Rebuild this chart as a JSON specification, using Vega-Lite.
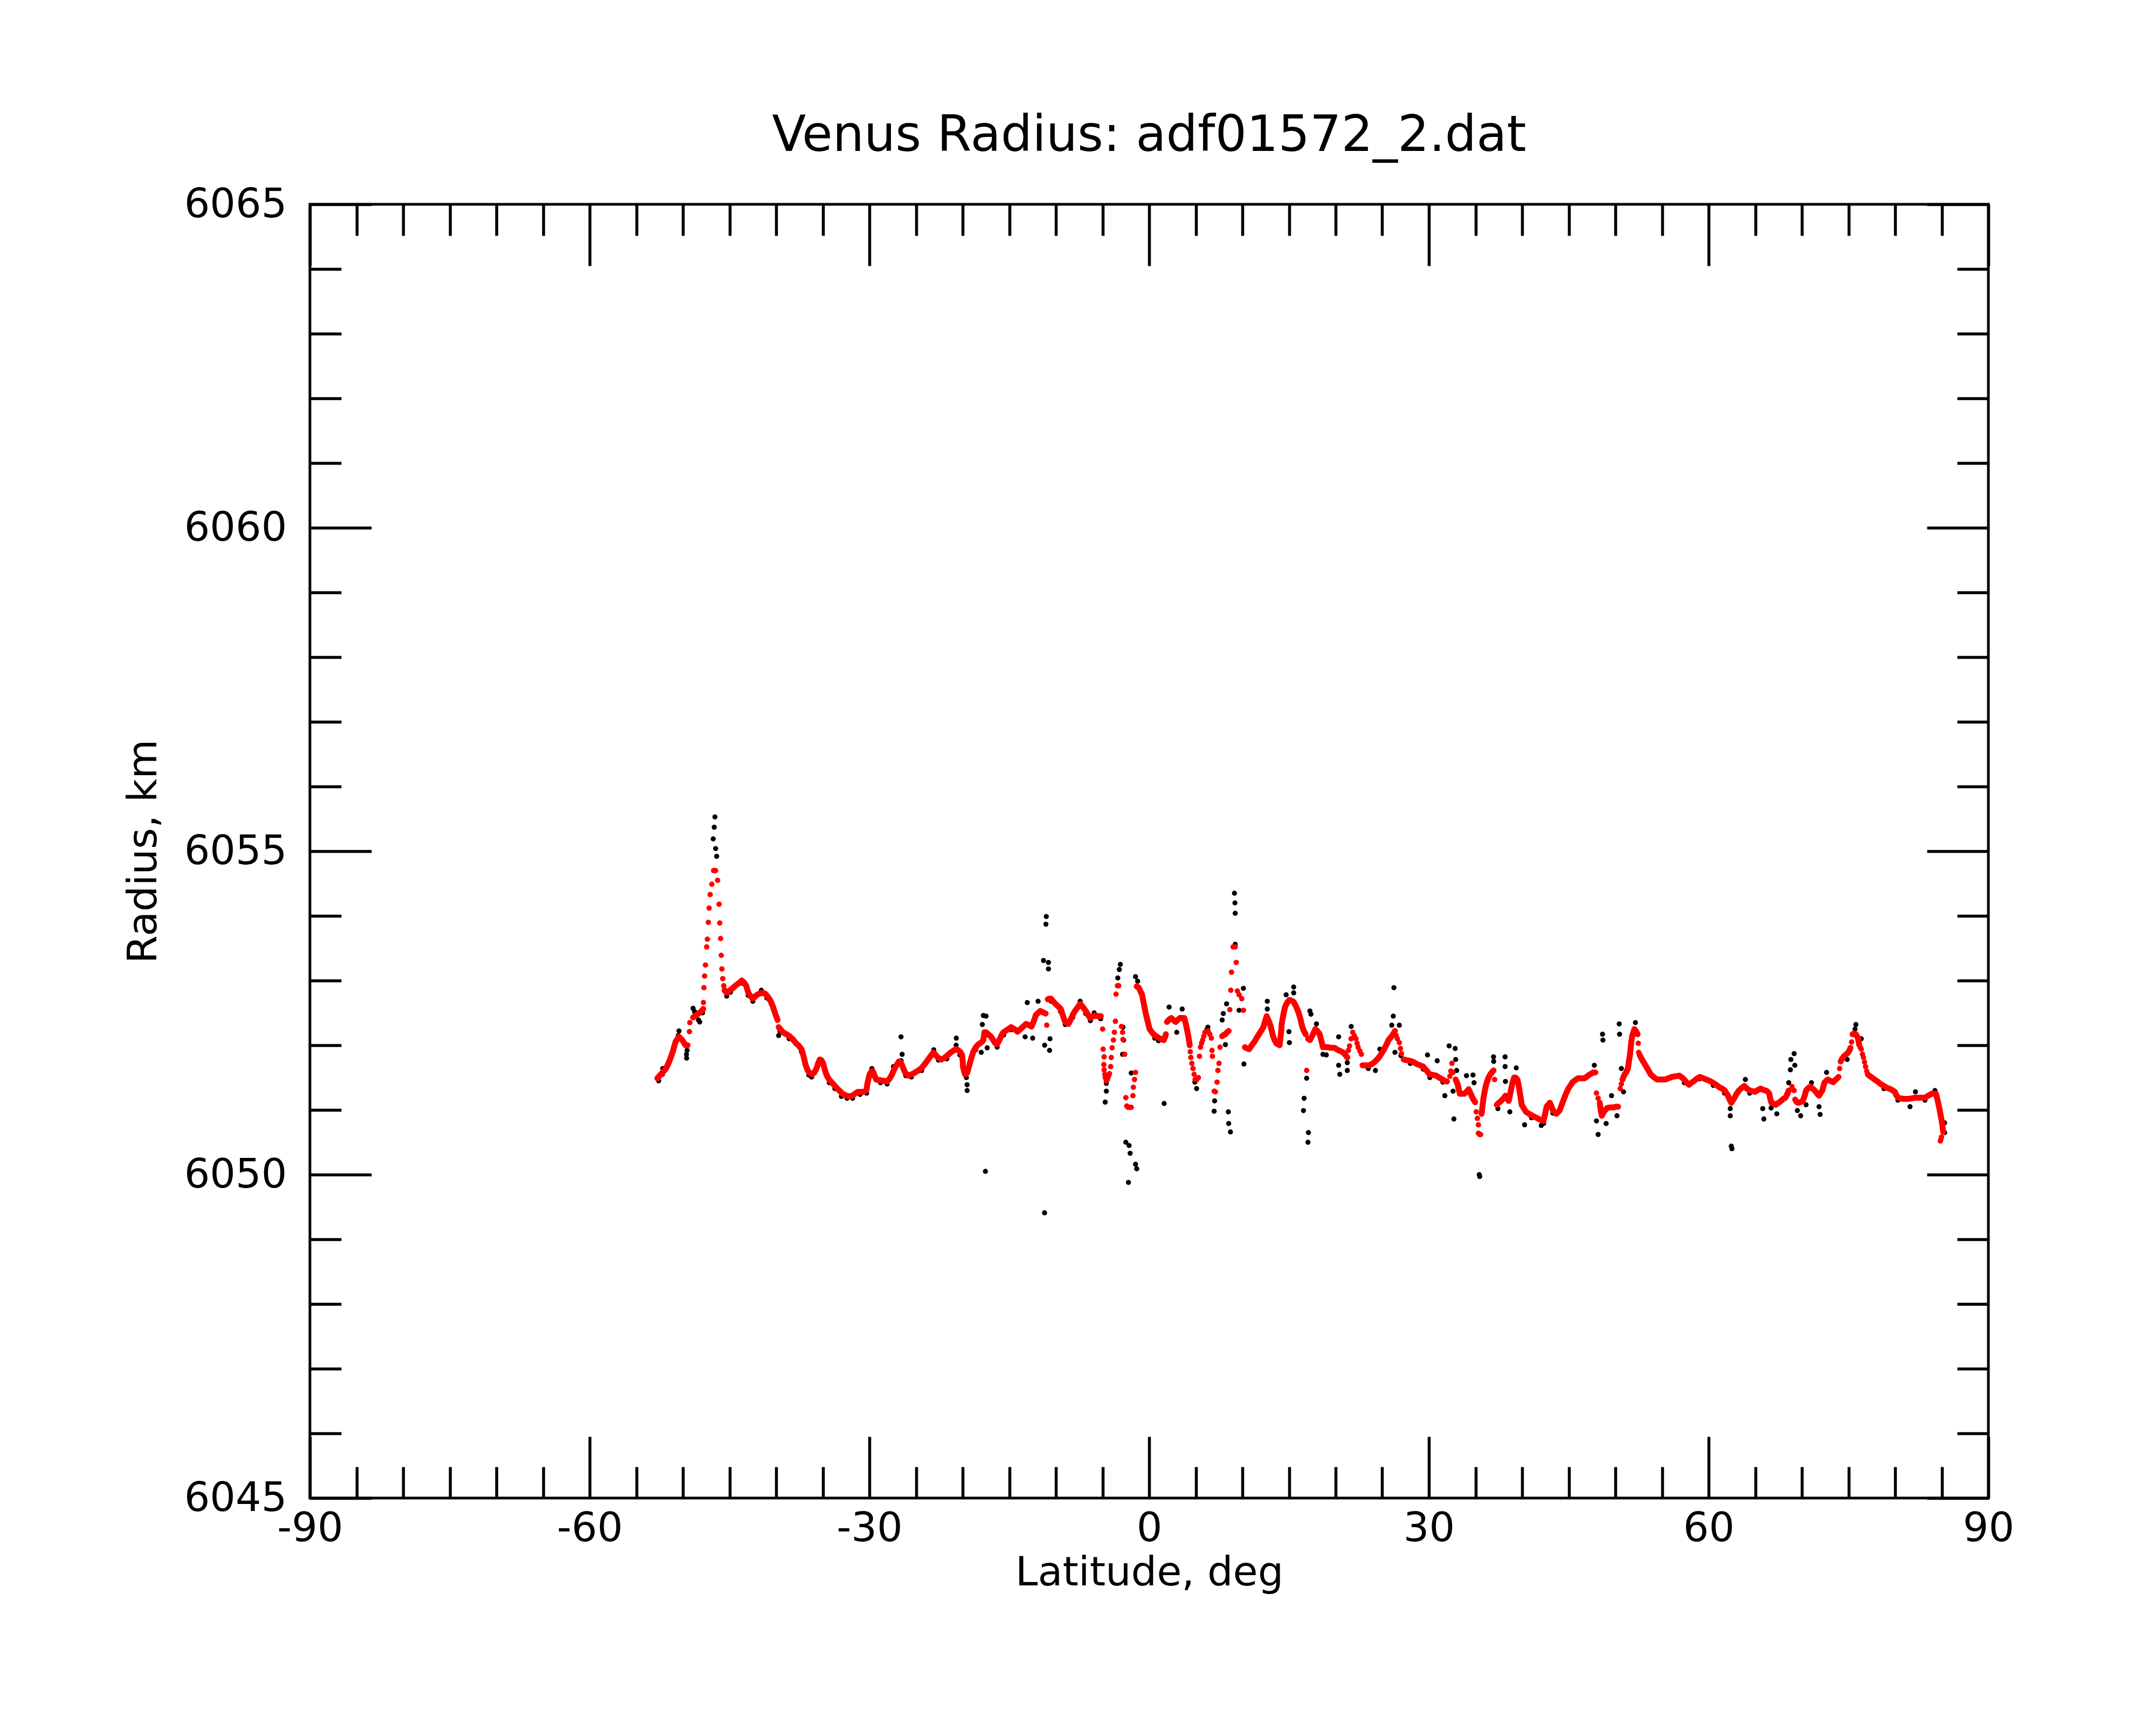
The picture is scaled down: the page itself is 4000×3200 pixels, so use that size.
{
  "$schema": "https://vega.github.io/schema/vega-lite/v6.json",
  "width": 3114,
  "height": 2400,
  "autosize": {"type": "none"},
  "padding": {"left": 575, "top": 379, "right": 311, "bottom": 421},
  "background": "white",
  "title": {"text": "Venus Radius: adf01572_2.dat", "font": "DejaVu Sans", "fontSize": 92, "fontWeight": "normal", "color": "black", "anchor": "middle", "frame": "group", "baseline": "alphabetic", "offset": -30},
  "config": {
    "view": {"stroke": "black", "strokeWidth": 5},
    "axis": {"domain": false, "grid": false, "labelFont": "DejaVu Sans", "titleFont": "DejaVu Sans", "labelFontSize": 75, "titleFontSize": 75, "titleFontWeight": "normal", "labelColor": "black", "titleColor": "black", "tickColor": "black", "tickWidth": 5.5, "labelFlush": false, "labelOverlap": false, "labelLimit": 0}
  },
  "datasets": {
    "red": [
      {"lat":-52.74,"r":6051.49,"g":1},{"lat":-52.3,"r":6051.56,"g":1},{"lat":-51.81,"r":6051.64,"g":1},{"lat":-51.46,"r":6051.75,"g":1},{"lat":-51.11,"r":6051.89,"g":1},{"lat":-50.77,"r":6052.06,"g":1},{"lat":-50.42,"r":6052.13,"g":1},{"lat":-50.07,"r":6052.08,"g":1},{"lat":-49.72,"r":6052.0,"g":1},{"lat":-49.5,"r":6052.0,"g":1},
      {"lat":-49.3,"r":6052.21,"g":0},{"lat":-49.26,"r":6052.35,"g":0},
      {"lat":-48.91,"r":6052.43,"g":2},{"lat":-48.6,"r":6052.46,"g":2},{"lat":-48.33,"r":6052.49,"g":2},{"lat":-48.05,"r":6052.52,"g":2},{"lat":-47.82,"r":6052.56,"g":2},
      {"lat":-47.8,"r":6052.66,"g":0},{"lat":-47.75,"r":6052.89,"g":0},{"lat":-47.68,"r":6053.07,"g":0},{"lat":-47.58,"r":6053.24,"g":0},{"lat":-47.45,"r":6053.52,"g":0},{"lat":-47.38,"r":6053.64,"g":0},{"lat":-47.27,"r":6053.9,"g":0},{"lat":-47.19,"r":6054.12,"g":0},{"lat":-47.08,"r":6054.33,"g":0},{"lat":-46.9,"r":6054.49,"g":0},{"lat":-46.71,"r":6054.7,"g":0},{"lat":-46.6,"r":6054.7,"g":0},{"lat":-46.5,"r":6054.7,"g":0},{"lat":-46.28,"r":6054.55,"g":0},{"lat":-46.12,"r":6054.18,"g":0},{"lat":-46.05,"r":6053.89,"g":0},{"lat":-45.96,"r":6053.65,"g":0},{"lat":-45.89,"r":6053.39,"g":0},{"lat":-45.82,"r":6053.18,"g":0},{"lat":-45.73,"r":6053.03,"g":0},{"lat":-45.62,"r":6052.92,"g":0},
      {"lat":-45.54,"r":6052.85,"g":3},{"lat":-45.31,"r":6052.81,"g":3},{"lat":-45.05,"r":6052.84,"g":3},{"lat":-44.84,"r":6052.86,"g":3},{"lat":-44.6,"r":6052.89,"g":3},{"lat":-44.38,"r":6052.92,"g":3},{"lat":-44.0,"r":6052.96,"g":3},{"lat":-43.68,"r":6053.0,"g":3},{"lat":-43.45,"r":6052.97,"g":3},{"lat":-43.22,"r":6052.92,"g":3},{"lat":-42.98,"r":6052.81,"g":3},{"lat":-42.75,"r":6052.76,"g":3},{"lat":-42.52,"r":6052.72,"g":3},{"lat":-42.28,"r":6052.75,"g":3},{"lat":-42.05,"r":6052.78,"g":3},{"lat":-41.75,"r":6052.8,"g":3},{"lat":-41.47,"r":6052.81,"g":3},{"lat":-41.2,"r":6052.8,"g":3},{"lat":-41.01,"r":6052.77,"g":3},{"lat":-40.75,"r":6052.72,"g":3},{"lat":-40.55,"r":6052.67,"g":3},{"lat":-40.35,"r":6052.6,"g":3},{"lat":-40.2,"r":6052.53,"g":3},{"lat":-40.0,"r":6052.45,"g":3},{"lat":-39.85,"r":6052.39,"g":3},
      {"lat":-39.73,"r":6052.28,"g":4},{"lat":-39.5,"r":6052.24,"g":4},{"lat":-39.27,"r":6052.2,"g":4},{"lat":-38.9,"r":6052.17,"g":4},{"lat":-38.57,"r":6052.14,"g":4},{"lat":-38.2,"r":6052.09,"g":4},{"lat":-37.87,"r":6052.03,"g":4},{"lat":-37.55,"r":6051.99,"g":4},{"lat":-37.29,"r":6051.94,"g":4},{"lat":-37.06,"r":6051.83,"g":4},{"lat":-36.83,"r":6051.69,"g":4},{"lat":-36.65,"r":6051.62,"g":4},{"lat":-36.48,"r":6051.58,"g":4},{"lat":-36.13,"r":6051.55,"g":4},{"lat":-35.9,"r":6051.58,"g":4},{"lat":-35.67,"r":6051.64,"g":4},{"lat":-35.5,"r":6051.72,"g":4},{"lat":-35.32,"r":6051.78,"g":4},{"lat":-35.15,"r":6051.77,"g":4},{"lat":-34.97,"r":6051.72,"g":4},{"lat":-34.8,"r":6051.63,"g":4},{"lat":-34.62,"r":6051.55,"g":4},{"lat":-34.45,"r":6051.5,"g":4},{"lat":-34.27,"r":6051.46,"g":4},{"lat":-33.95,"r":6051.41,"g":4},{"lat":-33.69,"r":6051.37,"g":4},{"lat":-33.45,"r":6051.33,"g":4},{"lat":-33.23,"r":6051.3,"g":4},{"lat":-32.88,"r":6051.25,"g":4},{"lat":-32.6,"r":6051.23,"g":4},{"lat":-32.42,"r":6051.22,"g":4},{"lat":-32.1,"r":6051.21,"g":4},{"lat":-31.83,"r":6051.22,"g":4},{"lat":-31.55,"r":6051.25,"g":4},{"lat":-31.25,"r":6051.28,"g":4},{"lat":-30.95,"r":6051.28,"g":4},{"lat":-30.67,"r":6051.28,"g":4},{"lat":-30.32,"r":6051.3,"g":4},{"lat":-30.21,"r":6051.41,"g":4},{"lat":-30.1,"r":6051.48,"g":4},{"lat":-29.98,"r":6051.55,"g":4},{"lat":-29.8,"r":6051.59,"g":4},{"lat":-29.63,"r":6051.6,"g":4},{"lat":-29.45,"r":6051.53,"g":4},{"lat":-29.28,"r":6051.47,"g":4},{"lat":-29.05,"r":6051.46,"g":4},{"lat":-28.82,"r":6051.46,"g":4},{"lat":-28.45,"r":6051.45,"g":4},{"lat":-28.12,"r":6051.44,"g":4},{"lat":-27.85,"r":6051.48,"g":4},{"lat":-27.65,"r":6051.53,"g":4},{"lat":-27.48,"r":6051.58,"g":4},{"lat":-27.3,"r":6051.64,"g":4},{"lat":-27.05,"r":6051.7,"g":4},{"lat":-26.84,"r":6051.75,"g":4},{"lat":-26.65,"r":6051.73,"g":4},{"lat":-26.49,"r":6051.69,"g":4},{"lat":-26.3,"r":6051.62,"g":4},{"lat":-26.14,"r":6051.57,"g":4},{"lat":-25.79,"r":6051.53,"g":4},{"lat":-25.45,"r":6051.55,"g":4},{"lat":-25.1,"r":6051.58,"g":4},{"lat":-24.75,"r":6051.61,"g":4},{"lat":-24.4,"r":6051.65,"g":4},{"lat":-24.05,"r":6051.71,"g":4},{"lat":-23.7,"r":6051.78,"g":4},{"lat":-23.4,"r":6051.84,"g":4},{"lat":-23.12,"r":6051.89,"g":4},{"lat":-22.9,"r":6051.85,"g":4},{"lat":-22.66,"r":6051.81,"g":4},{"lat":-22.31,"r":6051.78,"g":4},{"lat":-22.0,"r":6051.8,"g":4},{"lat":-21.73,"r":6051.83,"g":4},{"lat":-21.5,"r":6051.86,"g":4},{"lat":-21.26,"r":6051.89,"g":4},{"lat":-20.95,"r":6051.92,"g":4},{"lat":-20.68,"r":6051.94,"g":4},{"lat":-20.45,"r":6051.92,"g":4},{"lat":-20.22,"r":6051.89,"g":4},{"lat":-20.05,"r":6051.84,"g":4},{"lat":-19.99,"r":6051.75,"g":4},{"lat":-19.97,"r":6051.67,"g":4},{"lat":-19.85,"r":6051.6,"g":4},{"lat":-19.75,"r":6051.55,"g":4},{"lat":-19.52,"r":6051.57,"g":4},{"lat":-19.4,"r":6051.63,"g":4},{"lat":-19.29,"r":6051.69,"g":4},{"lat":-19.15,"r":6051.76,"g":4},{"lat":-19.06,"r":6051.81,"g":4},{"lat":-18.85,"r":6051.9,"g":4},{"lat":-18.59,"r":6051.97,"g":4},{"lat":-18.35,"r":6052.01,"g":4},{"lat":-18.13,"r":6052.03,"g":4},{"lat":-17.95,"r":6052.05,"g":4},{"lat":-17.78,"r":6052.08,"g":4},{"lat":-17.66,"r":6052.2,"g":4},{"lat":-17.49,"r":6052.2,"g":4},{"lat":-17.25,"r":6052.17,"g":4},{"lat":-17.02,"r":6052.14,"g":4},{"lat":-16.8,"r":6052.1,"g":4},{"lat":-16.55,"r":6052.04,"g":4},{"lat":-16.32,"r":6052.01,"g":4},{"lat":-16.1,"r":6052.07,"g":4},{"lat":-15.85,"r":6052.15,"g":4},{"lat":-15.63,"r":6052.2,"g":4},{"lat":-15.2,"r":6052.24,"g":4},{"lat":-14.81,"r":6052.28,"g":4},{"lat":-14.45,"r":6052.25,"g":4},{"lat":-14.12,"r":6052.21,"g":4},{"lat":-13.65,"r":6052.27,"g":4},{"lat":-13.19,"r":6052.33,"g":4},{"lat":-12.9,"r":6052.31,"g":4},{"lat":-12.61,"r":6052.29,"g":4},{"lat":-12.35,"r":6052.38,"g":4},{"lat":-12.14,"r":6052.47,"g":4},{"lat":-11.9,"r":6052.5,"g":4},{"lat":-11.68,"r":6052.53,"g":4},{"lat":-11.4,"r":6052.51,"g":4},{"lat":-11.1,"r":6052.49,"g":4},
      {"lat":-10.98,"r":6052.31,"g":0},
      {"lat":-10.87,"r":6052.71,"g":5},{"lat":-10.7,"r":6052.72,"g":5},{"lat":-10.52,"r":6052.72,"g":5},{"lat":-10.3,"r":6052.68,"g":5},{"lat":-10.05,"r":6052.64,"g":5},{"lat":-9.75,"r":6052.6,"g":5},{"lat":-9.47,"r":6052.56,"g":5},{"lat":-9.25,"r":6052.46,"g":5},{"lat":-9.01,"r":6052.36,"g":5},{"lat":-8.66,"r":6052.33,"g":5},{"lat":-8.4,"r":6052.4,"g":5},{"lat":-8.19,"r":6052.47,"g":5},{"lat":-7.95,"r":6052.53,"g":5},{"lat":-7.65,"r":6052.59,"g":5},{"lat":-7.38,"r":6052.64,"g":5},{"lat":-7.1,"r":6052.59,"g":5},{"lat":-6.8,"r":6052.53,"g":5},{"lat":-6.55,"r":6052.47,"g":5},{"lat":-6.34,"r":6052.42,"g":5},{"lat":-6.1,"r":6052.44,"g":5},{"lat":-5.87,"r":6052.46,"g":5},{"lat":-5.5,"r":6052.45,"g":5},{"lat":-5.18,"r":6052.45,"g":5},
      {"lat":-4.99,"r":6052.25,"g":0},{"lat":-4.94,"r":6051.94,"g":0},{"lat":-4.83,"r":6051.82,"g":0},{"lat":-4.86,"r":6051.7,"g":0},{"lat":-4.83,"r":6051.62,"g":0},{"lat":-4.75,"r":6051.55,"g":0},{"lat":-4.71,"r":6051.5,"g":0},{"lat":-4.6,"r":6051.45,"g":0},{"lat":-4.48,"r":6051.47,"g":0},{"lat":-4.35,"r":6051.52,"g":0},{"lat":-4.25,"r":6051.56,"g":0},{"lat":-4.13,"r":6051.67,"g":0},{"lat":-4.06,"r":6051.81,"g":0},{"lat":-3.97,"r":6051.96,"g":0},{"lat":-3.83,"r":6052.08,"g":0},{"lat":-3.73,"r":6052.2,"g":0},{"lat":-3.62,"r":6052.37,"g":0},{"lat":-3.55,"r":6052.79,"g":0},{"lat":-3.4,"r":6052.92,"g":0},{"lat":-3.27,"r":6052.92,"g":0},{"lat":-2.97,"r":6052.29,"g":0},{"lat":-2.85,"r":6052.2,"g":0},{"lat":-2.81,"r":6052.09,"g":0},{"lat":-2.62,"r":6051.86,"g":0},{"lat":-2.5,"r":6051.19,"g":0},{"lat":-2.4,"r":6051.06,"g":0},{"lat":-2.27,"r":6051.04,"g":0},{"lat":-2.1,"r":6051.04,"g":0},{"lat":-1.92,"r":6051.04,"g":0},{"lat":-1.74,"r":6051.22,"g":0},{"lat":-1.69,"r":6051.35,"g":0},{"lat":-1.57,"r":6051.47,"g":0},{"lat":-1.46,"r":6051.58,"g":0},
      {"lat":-1.34,"r":6052.91,"g":6},{"lat":-1.11,"r":6052.89,"g":6},{"lat":-0.95,"r":6052.84,"g":6},{"lat":-0.76,"r":6052.78,"g":6},{"lat":-0.65,"r":6052.7,"g":6},{"lat":-0.53,"r":6052.61,"g":6},{"lat":-0.42,"r":6052.53,"g":6},{"lat":-0.3,"r":6052.45,"g":6},{"lat":-0.12,"r":6052.35,"g":6},{"lat":0.05,"r":6052.25,"g":6},{"lat":0.35,"r":6052.19,"g":6},{"lat":0.63,"r":6052.15,"g":6},{"lat":0.85,"r":6052.13,"g":6},{"lat":1.1,"r":6052.11,"g":6},{"lat":1.35,"r":6052.09,"g":6},{"lat":1.56,"r":6052.08,"g":6},{"lat":1.72,"r":6052.13,"g":6},{"lat":1.79,"r":6052.17,"g":6},
      {"lat":1.91,"r":6052.36,"g":7},{"lat":2.15,"r":6052.4,"g":7},{"lat":2.38,"r":6052.42,"g":7},{"lat":2.6,"r":6052.39,"g":7},{"lat":2.84,"r":6052.36,"g":7},{"lat":3.05,"r":6052.39,"g":7},{"lat":3.3,"r":6052.42,"g":7},{"lat":3.55,"r":6052.42,"g":7},{"lat":3.77,"r":6052.42,"g":7},{"lat":3.95,"r":6052.32,"g":7},{"lat":4.12,"r":6052.2,"g":7},{"lat":4.25,"r":6052.1,"g":7},{"lat":4.35,"r":6052.0,"g":7},
      {"lat":4.41,"r":6051.9,"g":0},{"lat":4.47,"r":6051.81,"g":0},{"lat":4.58,"r":6051.72,"g":0},{"lat":4.7,"r":6051.64,"g":0},{"lat":4.82,"r":6051.55,"g":0},{"lat":4.93,"r":6051.47,"g":0},{"lat":5.1,"r":6051.47,"g":0},{"lat":5.28,"r":6051.5,"g":0},{"lat":5.4,"r":6051.83,"g":0},{"lat":5.51,"r":6051.97,"g":0},{"lat":5.62,"r":6052.03,"g":0},{"lat":5.74,"r":6052.08,"g":0},{"lat":5.86,"r":6052.14,"g":0},{"lat":5.98,"r":6052.2,"g":0},{"lat":6.15,"r":6052.21,"g":0},{"lat":6.33,"r":6052.22,"g":0},{"lat":6.5,"r":6052.17,"g":0},{"lat":6.67,"r":6052.11,"g":0},{"lat":6.74,"r":6051.92,"g":0},{"lat":6.79,"r":6051.83,"g":0},{"lat":6.98,"r":6051.29,"g":0},{"lat":7.1,"r":6051.28,"g":0},{"lat":7.28,"r":6051.43,"g":0},{"lat":7.37,"r":6051.61,"g":0},{"lat":7.49,"r":6051.72,"g":0},{"lat":7.6,"r":6051.97,"g":0},
      {"lat":7.83,"r":6052.14,"g":8},{"lat":8.0,"r":6052.16,"g":8},{"lat":8.18,"r":6052.17,"g":8},{"lat":8.35,"r":6052.2,"g":8},{"lat":8.53,"r":6052.22,"g":8},
      {"lat":8.65,"r":6052.55,"g":0},{"lat":8.75,"r":6052.85,"g":0},{"lat":8.83,"r":6053.13,"g":0},{"lat":9.0,"r":6053.52,"g":0},{"lat":9.23,"r":6053.52,"g":0},{"lat":9.34,"r":6053.28,"g":0},{"lat":9.46,"r":6052.84,"g":0},{"lat":9.65,"r":6052.78,"g":0},{"lat":9.93,"r":6052.72,"g":0},{"lat":10.11,"r":6052.54,"g":0},
      {"lat":10.27,"r":6051.97,"g":9},{"lat":10.5,"r":6051.95,"g":9},{"lat":10.74,"r":6051.94,"g":9},{"lat":11.0,"r":6052.0,"g":9},{"lat":11.32,"r":6052.06,"g":9},{"lat":11.55,"r":6052.12,"g":9},{"lat":11.78,"r":6052.17,"g":9},{"lat":12.0,"r":6052.22,"g":9},{"lat":12.25,"r":6052.28,"g":9},{"lat":12.45,"r":6052.38,"g":9},{"lat":12.6,"r":6052.45,"g":9},{"lat":12.78,"r":6052.39,"g":9},{"lat":12.95,"r":6052.33,"g":9},{"lat":13.12,"r":6052.24,"g":9},{"lat":13.29,"r":6052.14,"g":9},{"lat":13.45,"r":6052.08,"g":9},{"lat":13.64,"r":6052.03,"g":9},{"lat":13.99,"r":6052.0,"g":9},{"lat":14.15,"r":6052.2,"g":9},{"lat":14.22,"r":6052.33,"g":9},{"lat":14.4,"r":6052.48,"g":9},{"lat":14.57,"r":6052.59,"g":9},{"lat":14.8,"r":6052.66,"g":9},{"lat":15.04,"r":6052.7,"g":9},{"lat":15.27,"r":6052.69,"g":9},{"lat":15.5,"r":6052.67,"g":9},{"lat":15.75,"r":6052.6,"g":9},{"lat":15.96,"r":6052.53,"g":9},{"lat":16.2,"r":6052.42,"g":9},{"lat":16.33,"r":6052.34,"g":9},{"lat":16.43,"r":6052.28,"g":9},{"lat":16.6,"r":6052.22,"g":9},{"lat":16.78,"r":6052.17,"g":9},
      {"lat":16.89,"r":6051.61,"g":0},
      {"lat":17.05,"r":6052.1,"g":10},{"lat":17.24,"r":6052.08,"g":10},{"lat":17.5,"r":6052.15,"g":10},{"lat":17.82,"r":6052.25,"g":10},{"lat":18.05,"r":6052.22,"g":10},{"lat":18.29,"r":6052.17,"g":10},{"lat":18.45,"r":6052.08,"g":10},{"lat":18.64,"r":6051.97,"g":10},{"lat":18.93,"r":6051.97,"g":10},{"lat":19.2,"r":6051.97,"g":10},{"lat":19.5,"r":6051.96,"g":10},{"lat":19.86,"r":6051.96,"g":10},{"lat":20.2,"r":6051.93,"g":10},{"lat":20.5,"r":6051.91,"g":10},{"lat":20.79,"r":6051.89,"g":10},{"lat":21.05,"r":6051.85,"g":10},{"lat":21.25,"r":6051.81,"g":10},
      {"lat":21.37,"r":6051.92,"g":0},{"lat":21.49,"r":6051.99,"g":0},{"lat":21.65,"r":6052.1,"g":0},{"lat":21.83,"r":6052.2,"g":0},{"lat":22.0,"r":6052.15,"g":0},{"lat":22.18,"r":6052.1,"g":0},{"lat":22.3,"r":6052.03,"g":0},{"lat":22.41,"r":6051.97,"g":0},{"lat":22.6,"r":6051.91,"g":0},{"lat":22.76,"r":6051.86,"g":0},
      {"lat":22.88,"r":6051.69,"g":11},{"lat":23.2,"r":6051.69,"g":11},{"lat":23.58,"r":6051.69,"g":11},{"lat":23.9,"r":6051.71,"g":11},{"lat":24.16,"r":6051.74,"g":11},{"lat":24.45,"r":6051.78,"g":11},{"lat":24.74,"r":6051.83,"g":11},{"lat":24.95,"r":6051.88,"g":11},{"lat":25.2,"r":6051.94,"g":11},{"lat":25.45,"r":6052.01,"g":11},{"lat":25.67,"r":6052.08,"g":11},{"lat":26.02,"r":6052.14,"g":11},{"lat":26.2,"r":6052.18,"g":11},{"lat":26.36,"r":6052.22,"g":11},
      {"lat":26.5,"r":6052.15,"g":0},{"lat":26.62,"r":6052.1,"g":0},{"lat":26.83,"r":6052.04,"g":0},{"lat":26.95,"r":6051.95,"g":0},{"lat":27.06,"r":6051.87,"g":0},
      {"lat":27.29,"r":6051.78,"g":12},{"lat":27.6,"r":6051.77,"g":12},{"lat":27.99,"r":6051.76,"g":12},{"lat":28.35,"r":6051.74,"g":12},{"lat":28.69,"r":6051.71,"g":12},{"lat":29.05,"r":6051.69,"g":12},{"lat":29.38,"r":6051.67,"g":12},{"lat":29.75,"r":6051.61,"g":12},{"lat":30.08,"r":6051.55,"g":12},{"lat":30.45,"r":6051.54,"g":12},{"lat":30.78,"r":6051.53,"g":12},{"lat":31.1,"r":6051.5,"g":12},{"lat":31.47,"r":6051.47,"g":12},{"lat":31.7,"r":6051.45,"g":12},{"lat":31.94,"r":6051.44,"g":12},
      {"lat":32.25,"r":6051.52,"g":0},{"lat":32.35,"r":6051.6,"g":0},{"lat":32.47,"r":6051.72,"g":0},{"lat":32.6,"r":6051.58,"g":0},
      {"lat":32.87,"r":6051.47,"g":13},{"lat":33.1,"r":6051.39,"g":13},{"lat":33.2,"r":6051.32,"g":13},{"lat":33.33,"r":6051.25,"g":13},{"lat":33.55,"r":6051.25,"g":13},{"lat":33.8,"r":6051.25,"g":13},{"lat":34.05,"r":6051.28,"g":13},{"lat":34.26,"r":6051.32,"g":13},{"lat":34.49,"r":6051.25,"g":13},{"lat":34.7,"r":6051.18,"g":13},{"lat":34.96,"r":6051.12,"g":13},
      {"lat":35.08,"r":6050.97,"g":0},{"lat":35.2,"r":6050.87,"g":0},{"lat":35.31,"r":6050.77,"g":0},{"lat":35.31,"r":6050.64,"g":0},{"lat":35.45,"r":6050.62,"g":0},{"lat":35.54,"r":6050.62,"g":0},
      {"lat":35.66,"r":6050.94,"g":14},{"lat":35.72,"r":6051.02,"g":14},{"lat":35.77,"r":6051.08,"g":14},{"lat":35.85,"r":6051.18,"g":14},{"lat":36.0,"r":6051.3,"g":14},{"lat":36.1,"r":6051.37,"g":14},{"lat":36.24,"r":6051.44,"g":14},{"lat":36.4,"r":6051.5,"g":14},{"lat":36.58,"r":6051.55,"g":14},{"lat":36.75,"r":6051.58,"g":14},{"lat":36.93,"r":6051.61,"g":14},
      {"lat":37.05,"r":6051.47,"g":0},
      {"lat":37.28,"r":6051.08,"g":15},{"lat":37.5,"r":6051.11,"g":15},{"lat":37.75,"r":6051.14,"g":15},{"lat":38.0,"r":6051.18,"g":15},{"lat":38.21,"r":6051.22,"g":15},{"lat":38.4,"r":6051.18,"g":15},{"lat":38.56,"r":6051.14,"g":15},{"lat":38.68,"r":6051.22,"g":15},{"lat":38.79,"r":6051.3,"g":15},{"lat":38.95,"r":6051.41,"g":15},{"lat":39.14,"r":6051.5,"g":15},{"lat":39.3,"r":6051.5,"g":15},{"lat":39.49,"r":6051.47,"g":15},{"lat":39.6,"r":6051.4,"g":15},{"lat":39.72,"r":6051.3,"g":15},{"lat":39.85,"r":6051.18,"g":15},{"lat":39.95,"r":6051.08,"g":15},{"lat":40.2,"r":6051.02,"g":15},{"lat":40.42,"r":6050.97,"g":15},{"lat":40.75,"r":6050.94,"g":15},{"lat":41.11,"r":6050.91,"g":15},{"lat":41.5,"r":6050.88,"g":15},{"lat":41.93,"r":6050.85,"g":15},{"lat":42.28,"r":6050.83,"g":15},{"lat":42.45,"r":6050.93,"g":15},{"lat":42.63,"r":6051.05,"g":15},{"lat":42.97,"r":6051.11,"g":15},{"lat":43.15,"r":6051.05,"g":15},{"lat":43.32,"r":6050.99,"g":15},{"lat":43.67,"r":6050.94,"g":15},{"lat":44.02,"r":6050.99,"g":15},{"lat":44.25,"r":6051.08,"g":15},{"lat":44.48,"r":6051.17,"g":15},{"lat":44.7,"r":6051.25,"g":15},{"lat":44.95,"r":6051.33,"g":15},{"lat":45.2,"r":6051.38,"g":15},{"lat":45.41,"r":6051.43,"g":15},{"lat":45.7,"r":6051.46,"g":15},{"lat":45.99,"r":6051.49,"g":15},{"lat":46.35,"r":6051.49,"g":15},{"lat":46.69,"r":6051.49,"g":15},{"lat":46.9,"r":6051.51,"g":15},{"lat":47.15,"r":6051.54,"g":15},{"lat":47.4,"r":6051.56,"g":15},{"lat":47.62,"r":6051.58,"g":15},{"lat":47.85,"r":6051.58,"g":15},
      {"lat":47.97,"r":6051.26,"g":0},{"lat":48.15,"r":6051.18,"g":0},
      {"lat":48.32,"r":6051.11,"g":16},{"lat":48.43,"r":6050.99,"g":16},{"lat":48.55,"r":6050.91,"g":16},{"lat":48.8,"r":6050.98,"g":16},{"lat":49.13,"r":6051.03,"g":16},{"lat":49.5,"r":6051.04,"g":16},{"lat":49.83,"r":6051.04,"g":16},{"lat":50.05,"r":6051.05,"g":16},{"lat":50.29,"r":6051.05,"g":16},
      {"lat":50.52,"r":6051.33,"g":0},{"lat":50.64,"r":6051.4,"g":0},
      {"lat":50.76,"r":6051.47,"g":17},{"lat":50.99,"r":6051.55,"g":17},{"lat":51.15,"r":6051.58,"g":17},{"lat":51.34,"r":6051.64,"g":17},{"lat":51.45,"r":6051.75,"g":17},{"lat":51.57,"r":6051.86,"g":17},{"lat":51.69,"r":6052.03,"g":17},{"lat":51.8,"r":6052.14,"g":17},{"lat":52.04,"r":6052.25,"g":17},{"lat":52.2,"r":6052.22,"g":17},{"lat":52.38,"r":6052.17,"g":17},
      {"lat":52.45,"r":6052.03,"g":0},{"lat":52.5,"r":6051.89,"g":0},
      {"lat":52.6,"r":6051.85,"g":18},{"lat":52.85,"r":6051.78,"g":18},{"lat":53.1,"r":6051.72,"g":18},{"lat":53.31,"r":6051.67,"g":18},{"lat":53.55,"r":6051.61,"g":18},{"lat":53.78,"r":6051.55,"g":18},{"lat":54.1,"r":6051.51,"g":18},{"lat":54.47,"r":6051.47,"g":18},{"lat":54.9,"r":6051.47,"g":18},{"lat":55.35,"r":6051.47,"g":18},{"lat":55.7,"r":6051.49,"g":18},{"lat":56.04,"r":6051.51,"g":18},{"lat":56.45,"r":6051.52,"g":18},{"lat":56.86,"r":6051.53,"g":18},{"lat":57.15,"r":6051.5,"g":18},{"lat":57.44,"r":6051.46,"g":18},{"lat":57.65,"r":6051.42,"g":18},{"lat":57.9,"r":6051.39,"g":18},{"lat":58.15,"r":6051.42,"g":18},{"lat":58.37,"r":6051.44,"g":18},{"lat":58.7,"r":6051.48,"g":18},{"lat":59.06,"r":6051.51,"g":18},{"lat":59.4,"r":6051.49,"g":18},{"lat":59.76,"r":6051.47,"g":18},{"lat":60.1,"r":6051.45,"g":18},{"lat":60.46,"r":6051.42,"g":18},{"lat":60.8,"r":6051.39,"g":18},{"lat":61.15,"r":6051.35,"g":18},{"lat":61.45,"r":6051.33,"g":18},{"lat":61.73,"r":6051.3,"g":18},{"lat":61.9,"r":6051.26,"g":18},{"lat":62.08,"r":6051.22,"g":18},{"lat":62.25,"r":6051.16,"g":18},{"lat":62.43,"r":6051.11,"g":18},{"lat":62.6,"r":6051.15,"g":18},{"lat":62.78,"r":6051.19,"g":18},{"lat":63.0,"r":6051.25,"g":18},{"lat":63.25,"r":6051.3,"g":18},{"lat":63.55,"r":6051.34,"g":18},{"lat":63.83,"r":6051.37,"g":18},{"lat":64.1,"r":6051.33,"g":18},{"lat":64.41,"r":6051.3,"g":18},{"lat":64.7,"r":6051.29,"g":18},{"lat":64.99,"r":6051.28,"g":18},{"lat":65.3,"r":6051.31,"g":18},{"lat":65.57,"r":6051.33,"g":18},{"lat":65.85,"r":6051.31,"g":18},{"lat":66.15,"r":6051.3,"g":18},{"lat":66.35,"r":6051.28,"g":18},{"lat":66.5,"r":6051.25,"g":18},{"lat":66.6,"r":6051.18,"g":18},{"lat":66.73,"r":6051.11,"g":18},{"lat":66.95,"r":6051.1,"g":18},{"lat":67.19,"r":6051.08,"g":18},{"lat":67.5,"r":6051.11,"g":18},{"lat":67.77,"r":6051.14,"g":18},{"lat":68.0,"r":6051.17,"g":18},{"lat":68.24,"r":6051.19,"g":18},{"lat":68.45,"r":6051.25,"g":18},{"lat":68.59,"r":6051.3,"g":18},
      {"lat":68.94,"r":6051.36,"g":0},{"lat":69.17,"r":6051.3,"g":0},
      {"lat":69.28,"r":6051.16,"g":19},{"lat":69.45,"r":6051.12,"g":19},{"lat":69.63,"r":6051.11,"g":19},{"lat":69.85,"r":6051.12,"g":19},{"lat":70.1,"r":6051.14,"g":19},{"lat":70.3,"r":6051.22,"g":19},{"lat":70.45,"r":6051.3,"g":19},{"lat":70.7,"r":6051.34,"g":19},{"lat":70.91,"r":6051.36,"g":19},{"lat":71.15,"r":6051.33,"g":19},{"lat":71.38,"r":6051.3,"g":19},{"lat":71.6,"r":6051.26,"g":19},{"lat":71.84,"r":6051.22,"g":19},{"lat":72.0,"r":6051.26,"g":19},{"lat":72.19,"r":6051.3,"g":19},{"lat":72.3,"r":6051.36,"g":19},{"lat":72.42,"r":6051.42,"g":19},{"lat":72.6,"r":6051.45,"g":19},{"lat":72.77,"r":6051.47,"g":19},{"lat":73.05,"r":6051.45,"g":19},{"lat":73.35,"r":6051.43,"g":19},{"lat":73.65,"r":6051.47,"g":19},{"lat":73.93,"r":6051.51,"g":19},
      {"lat":74.05,"r":6051.64,"g":0},
      {"lat":74.16,"r":6051.75,"g":20},{"lat":74.35,"r":6051.8,"g":20},{"lat":74.51,"r":6051.83,"g":20},{"lat":74.75,"r":6051.86,"g":20},{"lat":74.98,"r":6051.89,"g":20},{"lat":75.1,"r":6051.92,"g":20},{"lat":75.21,"r":6051.96,"g":20},
      {"lat":75.33,"r":6052.05,"g":0},
      {"lat":75.44,"r":6052.17,"g":21},{"lat":75.6,"r":6052.18,"g":21},{"lat":75.79,"r":6052.17,"g":21},{"lat":76.02,"r":6052.11,"g":21},{"lat":76.14,"r":6052.01,"g":21},
      {"lat":76.25,"r":6051.97,"g":0},{"lat":76.37,"r":6051.94,"g":0},{"lat":76.5,"r":6051.86,"g":0},{"lat":76.6,"r":6051.81,"g":0},{"lat":76.72,"r":6051.74,"g":0},{"lat":76.83,"r":6051.67,"g":0},{"lat":76.95,"r":6051.6,"g":0},
      {"lat":77.07,"r":6051.55,"g":22},{"lat":77.3,"r":6051.52,"g":22},{"lat":77.53,"r":6051.5,"g":22},{"lat":77.8,"r":6051.47,"g":22},{"lat":78.11,"r":6051.44,"g":22},{"lat":78.45,"r":6051.4,"g":22},{"lat":78.81,"r":6051.37,"g":22},{"lat":79.15,"r":6051.34,"g":22},{"lat":79.51,"r":6051.32,"g":22},{"lat":79.75,"r":6051.3,"g":22},{"lat":79.97,"r":6051.28,"g":22},{"lat":80.15,"r":6051.22,"g":22},{"lat":80.32,"r":6051.19,"g":22},{"lat":80.6,"r":6051.18,"g":22},{"lat":80.9,"r":6051.17,"g":22},{"lat":81.35,"r":6051.17,"g":22},{"lat":81.83,"r":6051.18,"g":22},{"lat":82.2,"r":6051.19,"g":22},{"lat":82.53,"r":6051.19,"g":22},{"lat":82.9,"r":6051.19,"g":22},{"lat":83.22,"r":6051.19,"g":22},{"lat":83.55,"r":6051.22,"g":22},{"lat":83.92,"r":6051.25,"g":22},{"lat":84.15,"r":6051.25,"g":22},{"lat":84.38,"r":6051.25,"g":22},{"lat":84.52,"r":6051.17,"g":22},{"lat":84.66,"r":6051.08,"g":22},{"lat":84.78,"r":6051.0,"g":22},{"lat":84.89,"r":6050.91,"g":22},{"lat":85.0,"r":6050.83,"g":22},{"lat":85.08,"r":6050.75,"g":22},{"lat":85.15,"r":6050.66,"g":22},
      {"lat":84.97,"r":6050.58,"g":0},{"lat":84.85,"r":6050.52,"g":0},{"lat":84.92,"r":6050.55,"g":0}
    ],
    "black": [
      {"lat":-52.6,"r":6051.45},{"lat":-52.2,"r":6051.55},{"lat":-52.16,"r":6051.64},{"lat":-50.42,"r":6052.22},{"lat":-50.5,"r":6052.15},{"lat":-49.62,"r":6051.86},{"lat":-49.6,"r":6051.8},{"lat":-49.55,"r":6051.92},{"lat":-48.91,"r":6052.57},{"lat":-48.75,"r":6052.52},{"lat":-48.33,"r":6052.39},{"lat":-48.2,"r":6052.36},{"lat":-47.9,"r":6052.5},
      {"lat":-46.57,"r":6055.53},{"lat":-46.64,"r":6055.37},{"lat":-46.75,"r":6055.19},{"lat":-46.49,"r":6055.04},{"lat":-46.38,"r":6054.92},
      {"lat":-45.3,"r":6052.76},{"lat":-44.9,"r":6052.82},{"lat":-43.7,"r":6052.96},{"lat":-43.0,"r":6052.77},{"lat":-42.5,"r":6052.68},{"lat":-41.59,"r":6052.85},{"lat":-41.0,"r":6052.73},{"lat":-40.5,"r":6052.63},{"lat":-39.73,"r":6052.15},{"lat":-39.6,"r":6052.22},{"lat":-38.6,"r":6052.1},{"lat":-37.3,"r":6051.9},{"lat":-36.5,"r":6051.54},{"lat":-36.2,"r":6051.51},{"lat":-35.3,"r":6051.74},{"lat":-34.3,"r":6051.42},{"lat":-33.7,"r":6051.33},{"lat":-33.0,"r":6051.21},{"lat":-32.4,"r":6051.18},{"lat":-31.8,"r":6051.18},{"lat":-31.0,"r":6051.24},{"lat":-30.3,"r":6051.26},{"lat":-29.74,"r":6051.64},{"lat":-29.6,"r":6051.57},{"lat":-28.8,"r":6051.42},{"lat":-28.1,"r":6051.4},{"lat":-27.42,"r":6051.67},{"lat":-26.61,"r":6052.13},{"lat":-26.49,"r":6051.86},{"lat":-26.6,"r":6051.76},{"lat":-26.1,"r":6051.53},{"lat":-25.5,"r":6051.51},{"lat":-24.4,"r":6051.61},{"lat":-23.1,"r":6051.93},{"lat":-22.6,"r":6051.77},{"lat":-21.7,"r":6051.79},{"lat":-20.68,"r":6052.11},{"lat":-20.7,"r":6052.0},{"lat":-20.3,"r":6051.85},{"lat":-19.52,"r":6051.3},{"lat":-19.52,"r":6051.39},{"lat":-19.6,"r":6051.5},{"lat":-18.6,"r":6051.93},{"lat":-17.78,"r":6052.46},{"lat":-17.89,"r":6052.32},{"lat":-18.01,"r":6051.89},
      {"lat":-17.56,"r":6050.05},{"lat":-17.37,"r":6051.96},{"lat":-17.49,"r":6052.45},{"lat":-16.3,"r":6051.97},{"lat":-15.6,"r":6052.16},{"lat":-14.8,"r":6052.24},{"lat":-13.07,"r":6052.66},{"lat":-11.91,"r":6052.68},{"lat":-13.3,"r":6052.13},{"lat":-12.49,"r":6052.11},{"lat":-11.03,"r":6053.99},{"lat":-11.07,"r":6053.87},{"lat":-11.33,"r":6053.31},{"lat":-10.8,"r":6053.28},{"lat":-10.8,"r":6053.18},{"lat":-10.63,"r":6052.1},{"lat":-11.21,"r":6052.0},{"lat":-10.68,"r":6051.92},{"lat":-11.22,"r":6049.41},{"lat":-10.5,"r":6052.68},{"lat":-9.5,"r":6052.52},{"lat":-9.0,"r":6052.32},{"lat":-8.2,"r":6052.43},{"lat":-7.4,"r":6052.68},{"lat":-6.8,"r":6052.49},{"lat":-6.3,"r":6052.38},{"lat":-5.9,"r":6052.5},{"lat":-5.2,"r":6052.41},
      {"lat":-3.09,"r":6053.25},{"lat":-3.2,"r":6053.17},{"lat":-3.36,"r":6053.04},{"lat":-2.81,"r":6052.28},{"lat":-2.74,"r":6052.08},{"lat":-2.85,"r":6051.86},{"lat":-4.59,"r":6051.41},{"lat":-4.59,"r":6051.29},{"lat":-4.71,"r":6051.12},{"lat":-1.92,"r":6051.57},{"lat":-2.5,"r":6050.5},{"lat":-2.15,"r":6050.45},{"lat":-2.04,"r":6050.33},{"lat":-1.46,"r":6050.16},{"lat":-2.22,"r":6049.88},{"lat":-1.33,"r":6050.09},{"lat":-1.46,"r":6053.06},{"lat":-1.23,"r":6052.99},{"lat":-0.5,"r":6052.57},{"lat":0.6,"r":6052.11},{"lat":1.0,"r":6052.07},{"lat":1.61,"r":6051.1},{"lat":2.14,"r":6052.59},{"lat":3.54,"r":6052.56},{"lat":2.96,"r":6052.2},{"lat":5.09,"r":6051.33},{"lat":4.9,"r":6051.43},{"lat":6.21,"r":6052.25},{"lat":6.3,"r":6052.28},{"lat":7.02,"r":6051.14},{"lat":6.97,"r":6050.98},{"lat":8.49,"r":6050.97},{"lat":8.53,"r":6050.79},{"lat":8.72,"r":6050.66},{"lat":8.3,"r":6052.64},{"lat":7.95,"r":6052.49},{"lat":7.83,"r":6052.39},{"lat":8.18,"r":6052.01},
      {"lat":9.15,"r":6054.35},{"lat":9.2,"r":6054.2},{"lat":9.23,"r":6054.04},{"lat":9.23,"r":6053.56},{"lat":10.11,"r":6052.88},{"lat":9.65,"r":6052.54},{"lat":10.16,"r":6051.71},{"lat":12.67,"r":6052.68},{"lat":12.67,"r":6052.56},{"lat":14.69,"r":6052.78},{"lat":15.5,"r":6052.9},{"lat":15.5,"r":6052.81},{"lat":14.99,"r":6052.21},{"lat":15.04,"r":6052.04},{"lat":17.24,"r":6052.53},{"lat":17.35,"r":6052.48},{"lat":17.94,"r":6052.33},{"lat":16.89,"r":6051.49},{"lat":16.62,"r":6051.18},{"lat":16.55,"r":6050.99},{"lat":17.08,"r":6050.65},{"lat":17.03,"r":6050.5},{"lat":18.64,"r":6051.86},
      {"lat":26.25,"r":6052.89},{"lat":26.18,"r":6052.45},{"lat":26.02,"r":6052.31},{"lat":26.83,"r":6052.31},{"lat":26.36,"r":6051.89},{"lat":21.67,"r":6052.29},{"lat":20.32,"r":6052.13},{"lat":20.32,"r":6051.69},{"lat":20.44,"r":6051.55},{"lat":21.25,"r":6051.61},{"lat":21.25,"r":6051.73},{"lat":19.0,"r":6051.85},{"lat":24.74,"r":6051.94},{"lat":24.27,"r":6051.61},{"lat":23.5,"r":6051.64},{"lat":29.85,"r":6051.85},{"lat":30.89,"r":6051.76},{"lat":32.17,"r":6051.99},{"lat":32.82,"r":6051.95},{"lat":32.87,"r":6051.78},{"lat":32.98,"r":6051.61},{"lat":31.71,"r":6051.22},{"lat":32.59,"r":6051.29},{"lat":32.68,"r":6050.86},{"lat":34.03,"r":6051.53},{"lat":34.73,"r":6051.54},{"lat":34.84,"r":6051.42},{"lat":36.93,"r":6051.82},{"lat":36.95,"r":6051.75},{"lat":38.17,"r":6051.82},{"lat":38.17,"r":6051.67},{"lat":39.37,"r":6051.65},{"lat":38.21,"r":6051.44},{"lat":38.68,"r":6050.97},{"lat":37.4,"r":6051.02},{"lat":40.26,"r":6050.77},{"lat":42.05,"r":6050.76},{"lat":41.0,"r":6050.88},{"lat":42.3,"r":6050.79},{"lat":43.3,"r":6050.95},{"lat":47.74,"r":6051.69},{"lat":48.62,"r":6052.17},{"lat":48.66,"r":6052.08},{"lat":50.41,"r":6052.33},{"lat":50.45,"r":6052.17},{"lat":52.15,"r":6052.35},{"lat":47.97,"r":6050.83},{"lat":48.15,"r":6050.62},{"lat":49.01,"r":6050.79},{"lat":49.59,"r":6051.22},{"lat":50.17,"r":6050.91},{"lat":50.64,"r":6051.64},{"lat":50.87,"r":6051.28},{"lat":35.4,"r":6050.0},{"lat":35.45,"r":6049.97},{"lat":27.0,"r":6051.84},{"lat":28.0,"r":6051.72},{"lat":29.4,"r":6051.63},{"lat":30.1,"r":6051.5},{"lat":31.5,"r":6051.43},
      {"lat":62.32,"r":6051.02},{"lat":62.32,"r":6050.91},{"lat":62.43,"r":6050.44},{"lat":62.5,"r":6050.4},{"lat":63.94,"r":6051.47},{"lat":65.8,"r":6051.02},{"lat":65.92,"r":6050.86},{"lat":67.31,"r":6050.94},{"lat":66.7,"r":6051.03},{"lat":69.17,"r":6051.87},{"lat":68.82,"r":6051.78},{"lat":69.24,"r":6051.69},{"lat":68.77,"r":6051.62},{"lat":68.59,"r":6051.42},{"lat":69.52,"r":6050.99},{"lat":69.87,"r":6050.91},{"lat":70.45,"r":6051.08},{"lat":71.03,"r":6051.42},{"lat":71.84,"r":6051.05},{"lat":71.96,"r":6050.93},{"lat":72.65,"r":6051.58},{"lat":74.86,"r":6051.78},{"lat":75.79,"r":6052.32},{"lat":75.7,"r":6052.25},{"lat":76.37,"r":6052.1},{"lat":81.6,"r":6051.05},{"lat":82.18,"r":6051.28},{"lat":84.27,"r":6051.3},{"lat":85.31,"r":6050.65},{"lat":85.3,"r":6050.8},{"lat":57.4,"r":6051.42},{"lat":59.0,"r":6051.48},{"lat":60.5,"r":6051.38},{"lat":61.7,"r":6051.26},{"lat":64.4,"r":6051.26},{"lat":78.8,"r":6051.33},{"lat":80.3,"r":6051.15},{"lat":83.2,"r":6051.15}
    ]
  },
  "layer": [
    {
      "data": {"name": "black"},
      "mark": {"type": "circle", "size": 90, "color": "black", "opacity": 1},
      "encoding": {
        "x": {"field": "lat", "type": "quantitative", "scale": {"domain": [-90, 90], "nice": false, "zero": false},
          "axis": {"orient": "bottom", "values": [-90, -60, -30, 0, 30, 60, 90], "ticks": false, "labelPadding": 20, "labelExpr": "'' + datum.value", "title": "Latitude, deg", "titlePadding": 8}},
        "y": {"field": "r", "type": "quantitative", "scale": {"domain": [6045, 6065], "nice": false, "zero": false},
          "axis": {"orient": "left", "values": [6045, 6050, 6055, 6060, 6065], "ticks": false, "labelPadding": 43, "labelExpr": "'' + datum.value", "title": "Radius, km", "titlePadding": 70}}
      }
    },
    {
      "data": {"name": "red"},
      "transform": [{"filter": "datum.g > 0"}],
      "mark": {"type": "line", "color": "red", "strokeWidth": 11, "strokeCap": "round", "strokeJoin": "round"},
      "encoding": {
        "x": {"field": "lat", "type": "quantitative", "axis": {"orient": "bottom", "values": [-90, -60, -30, 0, 30, 60, 90], "labels": false, "title": null, "tickSize": -114}},
        "y": {"field": "r", "type": "quantitative", "axis": {"orient": "left", "values": [6045, 6050, 6055, 6060, 6065], "labels": false, "title": null, "tickSize": -114}},
        "detail": {"field": "g", "type": "nominal"}
      }
    },
    {
      "data": {"name": "red"},
      "mark": {"type": "circle", "size": 100, "color": "red", "opacity": 1},
      "encoding": {
        "x": {"field": "lat", "type": "quantitative", "axis": {"orient": "top", "values": [-90, -60, -30, 0, 30, 60, 90], "labels": false, "title": null, "tickSize": -114}},
        "y": {"field": "r", "type": "quantitative", "axis": {"orient": "right", "values": [6045, 6050, 6055, 6060, 6065], "labels": false, "title": null, "tickSize": -114}}
      }
    },
    {
      "data": {"name": "red"},
      "mark": {"type": "circle", "size": 1, "opacity": 0},
      "encoding": {
        "x": {"field": "lat", "type": "quantitative", "axis": {"orient": "bottom", "values": [-85, -80, -75, -70, -65, -55, -50, -45, -40, -35, -25, -20, -15, -10, -5, 5, 10, 15, 20, 25, 35, 40, 45, 50, 55, 65, 70, 75, 80, 85], "labels": false, "title": null, "tickSize": -58}},
        "y": {"field": "r", "type": "quantitative", "axis": {"orient": "left", "values": [6046, 6047, 6048, 6049, 6051, 6052, 6053, 6054, 6056, 6057, 6058, 6059, 6061, 6062, 6063, 6064], "labels": false, "title": null, "tickSize": -58}}
      }
    },
    {
      "data": {"name": "red"},
      "mark": {"type": "circle", "size": 1, "opacity": 0},
      "encoding": {
        "x": {"field": "lat", "type": "quantitative", "axis": {"orient": "top", "values": [-85, -80, -75, -70, -65, -55, -50, -45, -40, -35, -25, -20, -15, -10, -5, 5, 10, 15, 20, 25, 35, 40, 45, 50, 55, 65, 70, 75, 80, 85], "labels": false, "title": null, "tickSize": -58}},
        "y": {"field": "r", "type": "quantitative", "axis": {"orient": "right", "values": [6046, 6047, 6048, 6049, 6051, 6052, 6053, 6054, 6056, 6057, 6058, 6059, 6061, 6062, 6063, 6064], "labels": false, "title": null, "tickSize": -58}}
      }
    }
  ],
  "resolve": {"axis": {"x": "independent", "y": "independent"}}
}
